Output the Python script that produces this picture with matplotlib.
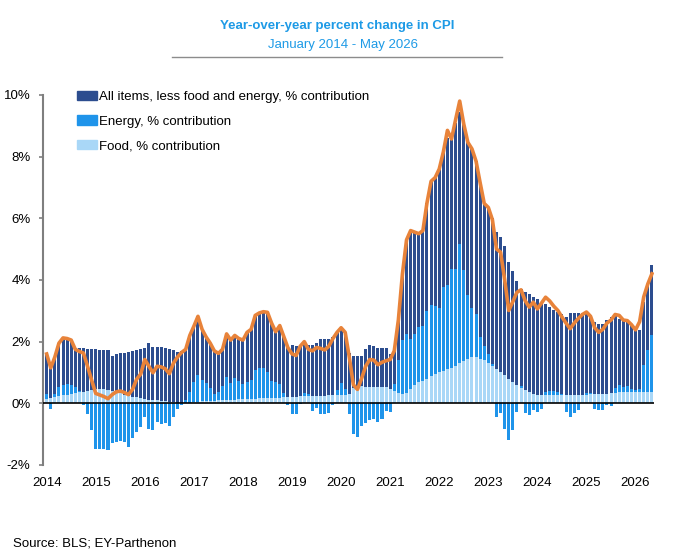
import numpy as np
import matplotlib
matplotlib.use("Agg")
import matplotlib.pyplot as plt
from matplotlib.patches import Patch
from matplotlib.lines import Line2D
from matplotlib.ticker import FuncFormatter

plt.rcParams["font.family"] = ["Liberation Sans", "DejaVu Sans"]

# Monthly values, January 2014 - May 2026 (percentage points)
year_labels = ["2014", "2015", "2016", "2017", "2018", "2019", "2020",
               "2021", "2022", "2023", "2024", "2025", "2026"]

food_contrib = [
    0.15, 0.17, 0.20, 0.23, 0.26, 0.28, 0.30, 0.33, 0.36, 0.38, 0.40, 0.42,  # 2014
    0.45, 0.46, 0.45, 0.43, 0.40, 0.36, 0.32, 0.28, 0.25, 0.22, 0.20, 0.17,  # 2015
    0.14, 0.12, 0.10, 0.10, 0.09, 0.07, 0.05, 0.03, 0.01, 0.00, 0.00, 0.02,  # 2016
    0.04, 0.05, 0.06, 0.07, 0.08, 0.09, 0.10, 0.10, 0.11, 0.12, 0.12, 0.13,  # 2017
    0.14, 0.14, 0.15, 0.15, 0.16, 0.16, 0.17, 0.17, 0.18, 0.18, 0.19, 0.20,  # 2018
    0.21, 0.22, 0.23, 0.24, 0.25, 0.25, 0.24, 0.25, 0.25, 0.26, 0.26, 0.26,  # 2019
    0.26, 0.27, 0.30, 0.50, 0.53, 0.55, 0.53, 0.53, 0.53, 0.53, 0.53, 0.53,  # 2020
    0.45, 0.40, 0.35, 0.31, 0.33, 0.45, 0.60, 0.68, 0.73, 0.80, 0.88, 0.95,  # 2021
    1.00, 1.05, 1.10, 1.15, 1.22, 1.30, 1.38, 1.45, 1.50, 1.50, 1.45, 1.39,  # 2022
    1.30, 1.20, 1.12, 1.01, 0.91, 0.80, 0.69, 0.58, 0.50, 0.42, 0.36, 0.31,  # 2023
    0.28, 0.26, 0.26, 0.26, 0.26, 0.26, 0.26, 0.26, 0.26, 0.26, 0.27, 0.27,  # 2024
    0.27, 0.30, 0.31, 0.31, 0.31, 0.31, 0.32, 0.33, 0.36, 0.37, 0.37, 0.37,  # 2025
    0.37, 0.37, 0.37, 0.37, 0.37,                                            # 2026
]

energy_contrib = [
    0.15, -0.20, 0.10, 0.30, 0.33, 0.33, 0.30, 0.20, 0.05, -0.05, -0.35, -0.85,
    -1.47, -1.47, -1.48, -1.52, -1.30, -1.25, -1.22, -1.25, -1.41, -1.14, -0.93, -0.77,
    -0.44, -0.82, -0.85, -0.62, -0.66, -0.65, -0.72, -0.45, -0.18, -0.05, 0.10, 0.35,
    0.65, 0.88, 0.70, 0.60, 0.40, 0.20, 0.28, 0.45, 0.75, 0.53, 0.70, 0.60,
    0.50, 0.56, 0.60, 0.92, 0.97, 0.97, 0.85, 0.55, 0.50, 0.45, 0.15, -0.05,
    -0.35, -0.35, -0.02, 0.10, 0.05, -0.25, -0.15, -0.35, -0.35, -0.30, -0.05, 0.17,
    0.40, 0.20, -0.35, -1.00, -1.10, -0.75, -0.65, -0.55, -0.50, -0.60, -0.50, -0.25,
    -0.28, 0.24, 1.04, 1.73, 1.92, 1.64, 1.65, 1.79, 1.79, 2.20, 2.30, 2.20,
    2.10, 2.71, 2.72, 3.21, 3.14, 3.87, 2.93, 2.05, 1.60, 1.40, 0.70, 0.46,
    0.31, 0.09, -0.44, -0.33, -0.82, -1.20, -0.87, -0.28, 0.05, -0.33, -0.39, -0.23,
    -0.28, -0.17, 0.10, 0.15, 0.15, 0.12, 0.05, -0.28, -0.44, -0.33, -0.23, 0.00,
    0.05, 0.03, -0.17, -0.23, -0.23, -0.05, -0.10, 0.15, 0.22, 0.15, 0.20, 0.10,
    0.05, 0.10, 0.86, 1.35, 1.83,
]

core_contrib = [
    1.30, 1.18, 1.20, 1.42, 1.53, 1.49, 1.45, 1.27, 1.39, 1.40, 1.35, 1.33,
    1.30, 1.28, 1.28, 1.29, 1.15, 1.24, 1.30, 1.35, 1.42, 1.48, 1.53, 1.59,
    1.66, 1.83, 1.73, 1.72, 1.75, 1.73, 1.71, 1.69, 1.64, 1.70, 1.65, 1.83,
    1.81, 1.89, 1.64, 1.48, 1.47, 1.41, 1.24, 1.20, 1.39, 1.40, 1.38, 1.37,
    1.41, 1.60, 1.65, 1.78, 1.80, 1.84, 1.93, 1.88, 1.64, 1.89, 1.82, 1.65,
    1.68, 1.64, 1.61, 1.64, 1.59, 1.64, 1.72, 1.82, 1.82, 1.81, 1.89, 1.89,
    1.79, 1.83, 1.32, 1.03, 1.02, 1.00, 1.24, 1.37, 1.34, 1.27, 1.27, 1.27,
    1.15, 1.06, 1.31, 2.16, 3.05, 3.51, 3.30, 3.03, 3.08, 3.50, 4.02, 4.17,
    4.50, 4.39, 4.78, 4.21, 4.74, 4.28, 4.74, 4.96, 5.15, 4.95, 5.00, 4.63,
    4.74, 4.71, 4.42, 4.37, 4.20, 3.77, 3.61, 3.40, 3.16, 3.18, 3.19, 3.13,
    3.11, 3.02, 2.87, 2.71, 2.60, 2.58, 2.59, 2.53, 2.66, 2.66, 2.65, 2.65,
    2.60, 2.47, 2.32, 2.27, 2.27, 2.38, 2.47, 2.42, 2.16, 2.17, 2.06, 2.08,
    1.94, 1.91, 2.05, 2.15, 2.27,
]

headline_cpi = [
    1.60, 1.15, 1.50, 1.95, 2.12, 2.10, 2.05, 1.75, 1.68, 1.63, 1.20, 0.75,
    0.32, 0.27, 0.22, 0.15, 0.28, 0.37, 0.40, 0.35, 0.28, 0.45, 0.78, 0.95,
    1.42, 1.20, 0.99, 1.20, 1.18, 1.12, 0.96, 1.30, 1.50, 1.65, 1.75, 2.20,
    2.50, 2.82, 2.40, 2.15, 1.95, 1.70, 1.62, 1.75, 2.25, 2.05, 2.20, 2.10,
    2.05, 2.30, 2.40, 2.85, 2.93, 2.97, 2.95, 2.60, 2.32, 2.52, 2.16, 1.80,
    1.60, 1.55, 1.85, 2.00, 1.75, 1.70, 1.81, 1.78, 1.73, 1.85, 2.10, 2.30,
    2.45, 2.30, 1.50, 0.60, 0.45, 0.80, 1.20, 1.42, 1.40, 1.25, 1.33, 1.38,
    1.42, 1.70, 2.70, 4.20, 5.30, 5.60, 5.55, 5.50, 5.60, 6.50, 7.20, 7.32,
    7.60, 8.15, 8.85, 8.57, 9.20, 9.80, 9.05, 8.46, 8.25, 7.85, 7.15, 6.48,
    6.35, 5.95, 5.00, 4.90, 4.00, 3.01, 3.30, 3.60, 3.68, 3.33, 3.12, 3.28,
    3.06, 3.25, 3.44, 3.32, 3.15, 3.01, 2.80, 2.60, 2.42, 2.60, 2.75, 2.88,
    2.96, 2.82, 2.45, 2.30, 2.40, 2.60, 2.70, 2.88, 2.85, 2.70, 2.68, 2.55,
    2.38, 2.65, 3.45, 3.87, 4.20,
]

CORE = "#2c4d8f"
ENERGY = "#1f94ea"
FOOD = "#a9d7f7"
LINE = "#e8833a"
TITLE = "#1d9ae6"

food = np.array(food_contrib)
energy = np.array(energy_contrib)
core = np.array(core_contrib)
energy_pos = np.clip(energy, 0, None)
energy_neg = np.clip(energy, None, 0)
x = np.arange(len(headline_cpi))

fig = plt.figure(figsize=(6.8, 5.59), dpi=100)
ax = fig.add_axes([0.0632, 0.1682, 0.8985, 0.662])

w = 0.74
ax.bar(x, food, w, color=FOOD, linewidth=0)
ax.bar(x, energy_pos, w, bottom=food, color=ENERGY, linewidth=0)
ax.bar(x, energy_neg, w, color=ENERGY, linewidth=0)
ax.bar(x, core, w, bottom=food + energy_pos, color=CORE, linewidth=0)
ax.axhline(0, color="black", lw=1.2, zorder=3)
ax.plot(x, headline_cpi, color=LINE, lw=2.6, solid_joinstyle="round", zorder=4)

ax.set_xlim(-0.9, 148.5)
ax.set_ylim(-2, 10)
ax.set_yticks(range(-2, 11, 2))
ax.yaxis.set_major_formatter(FuncFormatter(lambda v, p: f"{int(v)}%"))
ax.set_xticks(np.arange(len(year_labels)) * 12)
ax.set_xticklabels(year_labels)

for side in ["top", "right", "bottom"]:
    ax.spines[side].set_visible(False)
ax.spines["left"].set_color("#7f7f7f")
ax.spines["left"].set_linewidth(1.5)
ax.tick_params(axis="y", length=3, width=1.2, color="#7f7f7f", pad=6, labelsize=9.5)
ax.tick_params(axis="x", length=0, pad=9, labelsize=9.5)

handles = [Patch(color=CORE), Patch(color=ENERGY), Patch(color=FOOD)]
labels = ["All items, less food and energy, % contribution",
          "Energy, % contribution",
          "Food, % contribution"]
fig.legend(handles, labels, loc="upper left", bbox_to_anchor=(77 / 680, 1 - 91 / 559),
           frameon=False, fontsize=9.5, handlelength=1.5, handleheight=0.72,
           handletextpad=0.15, labelspacing=0.92, borderpad=0, borderaxespad=0)

fig.text(337 / 680, 1 - 26 / 559, "Year-over-year percent change in CPI",
         ha="center", va="center", fontsize=9.5, fontweight="bold", color=TITLE)
fig.text(343 / 680, 1 - 45 / 559, "January 2014 - May 2026",
         ha="center", va="center", fontsize=9.5, color=TITLE)
fig.add_artist(Line2D([172 / 680, 502 / 680], [1 - 57.3 / 559] * 2,
                      color="#8c8c8c", lw=1))
fig.text(13 / 680, 1 - 544 / 559, "Source: BLS; EY-Parthenon",
         ha="left", va="center", fontsize=9.5)

fig.savefig("out.png", dpi=100)
plt.close(fig)
